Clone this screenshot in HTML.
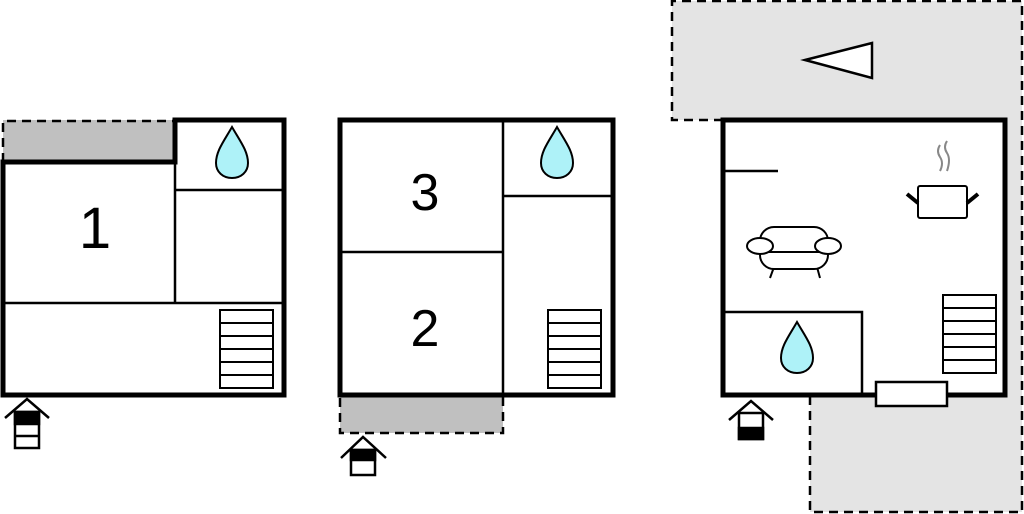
<!DOCTYPE html>
<html><head><style>html,body{margin:0;padding:0;background:#fff}svg{display:block}</style></head><body>
<svg width="1024" height="514" viewBox="0 0 1024 514" xmlns="http://www.w3.org/2000/svg">
<defs>
<g id="drop"><path d="M0,-28 C8,-14 16,-4 16,8 C16,17 9,23 0,23 C-9,23 -16,17 -16,8 C-16,-4 -8,-14 0,-28Z" fill="#aef2f8" stroke="#000" stroke-width="2"/></g>
<g id="stairs" fill="none" stroke="#000" stroke-width="2"><rect x="0" y="0" width="53" height="78"/><line x1="0" y1="13" x2="53" y2="13"/><line x1="0" y1="26" x2="53" y2="26"/><line x1="0" y1="39" x2="53" y2="39"/><line x1="0" y1="52" x2="53" y2="52"/><line x1="0" y1="65" x2="53" y2="65"/></g>
</defs>
<!-- right gray area -->
<path d="M672,1 L1022,1 L1022,512 L810,512 L810,395 L1005,395 L1005,120 L672,120 Z" fill="#e4e4e4"/>
<path d="M723,120 L672,120 L672,1 L1022,1 L1022,512 L810,512 L810,395" fill="none" stroke="#000" stroke-width="2.5" stroke-dasharray="9,6"/>
<polygon points="805,60 872,43 872,78" fill="#fff" stroke="#000" stroke-width="2.5"/>

<!-- House 1 -->
<rect x="3" y="120" width="172" height="42" fill="#c0c0c0"/>
<path d="M3,162 L3,121 L175,121" fill="none" stroke="#000" stroke-width="2.5" stroke-dasharray="9,6"/>
<path d="M3,162 L175,162 L175,120 L284,120 L284,395 L3,395 Z" fill="#fff" stroke="#000" stroke-width="5"/>
<g stroke="#000" stroke-width="2.5"><line x1="175" y1="120" x2="175" y2="303"/><line x1="175" y1="190" x2="284" y2="190"/><line x1="3" y1="303" x2="284" y2="303"/></g>
<use href="#drop" x="232" y="155"/>
<use href="#stairs" x="220" y="310"/>
<text x="95" y="248" font-family="Liberation Sans, sans-serif" font-size="58" text-anchor="middle">1</text>
<g stroke="#000" stroke-width="2.5" fill="none"><polyline points="5,418 27,399 49,418"/><rect x="15" y="412" width="24" height="36" fill="#fff"/><rect x="15" y="412" width="24" height="12" fill="#000"/><line x1="15" y1="436" x2="39" y2="436"/></g>

<!-- House 2 -->
<rect x="340" y="395" width="163" height="38" fill="#c0c0c0" stroke="#000" stroke-width="2.5" stroke-dasharray="9,6"/>
<rect x="340" y="120" width="273" height="275" fill="#fff" stroke="#000" stroke-width="5"/>
<g stroke="#000" stroke-width="2.5"><line x1="503" y1="120" x2="503" y2="395"/><line x1="340" y1="252" x2="503" y2="252"/><line x1="503" y1="196" x2="613" y2="196"/></g>
<use href="#drop" x="557" y="155"/>
<use href="#stairs" x="548" y="310"/>
<text x="425" y="210" font-family="Liberation Sans, sans-serif" font-size="52" text-anchor="middle">3</text>
<text x="425" y="346" font-family="Liberation Sans, sans-serif" font-size="52" text-anchor="middle">2</text>
<g stroke="#000" stroke-width="2.5" fill="none"><polyline points="341,458 363,437 386,458"/><rect x="351" y="450" width="24" height="25" fill="#fff"/><rect x="351" y="450" width="24" height="10" fill="#000"/></g>

<!-- House 3 -->
<rect x="723" y="120" width="282" height="275" fill="#fff" stroke="#000" stroke-width="5"/>
<g stroke="#000" stroke-width="2.5" fill="none"><line x1="723" y1="171" x2="778" y2="171"/><polyline points="723,312 862,312 862,395"/></g>
<use href="#drop" x="797" y="350"/>
<use href="#stairs" x="943" y="295"/>
<rect x="876" y="382" width="71" height="24" fill="#fff" stroke="#000" stroke-width="2.5"/>
<!-- pot -->
<g stroke="#000" stroke-width="2" fill="#fff"><rect x="918" y="186" width="49" height="32" rx="2"/></g>
<g stroke="#000" stroke-width="4"><line x1="907" y1="194" x2="918" y2="203"/><line x1="978" y1="194" x2="967" y2="203"/></g>
<g stroke="#888" stroke-width="2" fill="none"><path d="M940,145 q-4,6 0,12 q4,6 0,14"/><path d="M947,141 q-4,6 0,12 q4,6 0,18"/></g>
<!-- sofa -->
<g stroke="#000" stroke-width="2" fill="#fff">
<line x1="774" y1="267" x2="770" y2="278"/><line x1="817" y1="267" x2="820" y2="278"/>
<rect x="760" y="227" width="68" height="42" rx="14"/>
<line x1="765" y1="252" x2="823" y2="252"/>
<ellipse cx="760" cy="246" rx="13" ry="8"/><ellipse cx="828" cy="246" rx="13" ry="8"/>
</g>
<g stroke="#000" stroke-width="2.5" fill="none"><polyline points="729,420 751,401 773,420"/><rect x="739" y="413" width="24" height="26" fill="#fff"/><rect x="739" y="428" width="24" height="11" fill="#000"/></g>
</svg>
</body></html>
